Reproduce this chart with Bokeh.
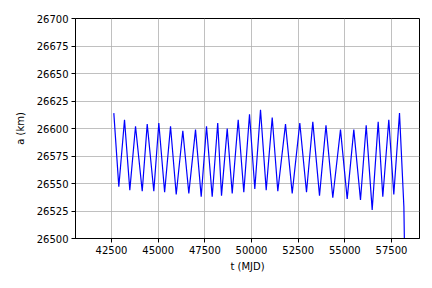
from bokeh.plotting import figure
from bokeh.models import FixedTicker, Range1d
from bokeh.embed import file_html
from bokeh.resources import INLINE

# Time (MJD) of the turning points of the semi-major axis record
t_mjd = [42623, 42891, 43196, 43480, 43786, 44145, 44412, 44766, 45034, 45345,
         45661, 45966, 46320, 46641, 47000, 47305, 47589, 47894, 48190, 48393,
         48698, 48966, 49287, 49587, 49893, 50177, 50482, 50787, 51109, 51409,
         51821, 52180, 52587, 52946, 53284, 53643, 53990, 54355, 54767, 55126,
         55480, 55839, 56144, 56465, 56787, 57034, 57355, 57623, 57929, 58163,
         58215]
# Semi-major axis (km)
a_km = [26614, 26547, 26608, 26544, 26602, 26543, 26604, 26543, 26605, 26542,
        26602, 26540, 26598, 26541, 26599, 26538, 26602, 26538, 26605, 26539,
        26600, 26541, 26608, 26542, 26613, 26545, 26617, 26544, 26610, 26543,
        26604, 26541, 26605, 26542, 26606, 26539, 26603, 26537, 26599, 26536,
        26599, 26535, 26603, 26526, 26606, 26538, 26608, 26540, 26614, 26529,
        26470]

x_ticks = [42500, 45000, 47500, 50000, 52500, 55000, 57500]
y_ticks = [26500, 26525, 26550, 26575, 26600, 26625, 26650, 26675, 26700]

p = figure(width=424, height=280, output_backend="svg", toolbar_location=None,
           x_range=Range1d(40570, 59000), y_range=Range1d(26500, 26700),
           min_border_left=75, min_border_right=5, min_border_top=18,
           min_border_bottom=42)
p.frame_width = 344
p.frame_height = 220

p.line(t_mjd, a_km, line_color="#0000ff", line_width=1.2)

FONT = "DejaVu Sans"
for ax, ticks in ((p.xaxis[0], x_ticks), (p.yaxis[0], y_ticks)):
    ax.ticker = FixedTicker(ticks=ticks)
    ax.minor_tick_line_color = None
    ax.major_tick_out = 4
    ax.major_tick_in = 0
    ax.major_label_text_font = FONT
    ax.major_label_text_font_size = "10px"
    ax.major_label_text_color = "black"
    ax.axis_label_text_font = FONT
    ax.axis_label_text_font_size = "10px"
    ax.axis_label_text_font_style = "normal"
    ax.axis_label_text_color = "black"
    ax.axis_line_color = "black"
    ax.major_tick_line_color = "black"
    ax.major_label_standoff = 3

p.xaxis.axis_label = "t (MJD)"
p.yaxis.axis_label = "a (km)"
p.xaxis.axis_label_standoff = 4
p.yaxis.axis_label_standoff = 8
p.xaxis.formatter.use_scientific = False
p.yaxis.formatter.use_scientific = False

p.xgrid.ticker = FixedTicker(ticks=x_ticks)
p.ygrid.ticker = FixedTicker(ticks=y_ticks)
p.grid.grid_line_color = "#b0b0b0"
p.grid.grid_line_width = 0.8
p.outline_line_color = "black"
p.outline_line_alpha = 1.0
p.background_fill_color = "white"
p.border_fill_color = "white"

open("out.html", "w").write(file_html(p, INLINE))
